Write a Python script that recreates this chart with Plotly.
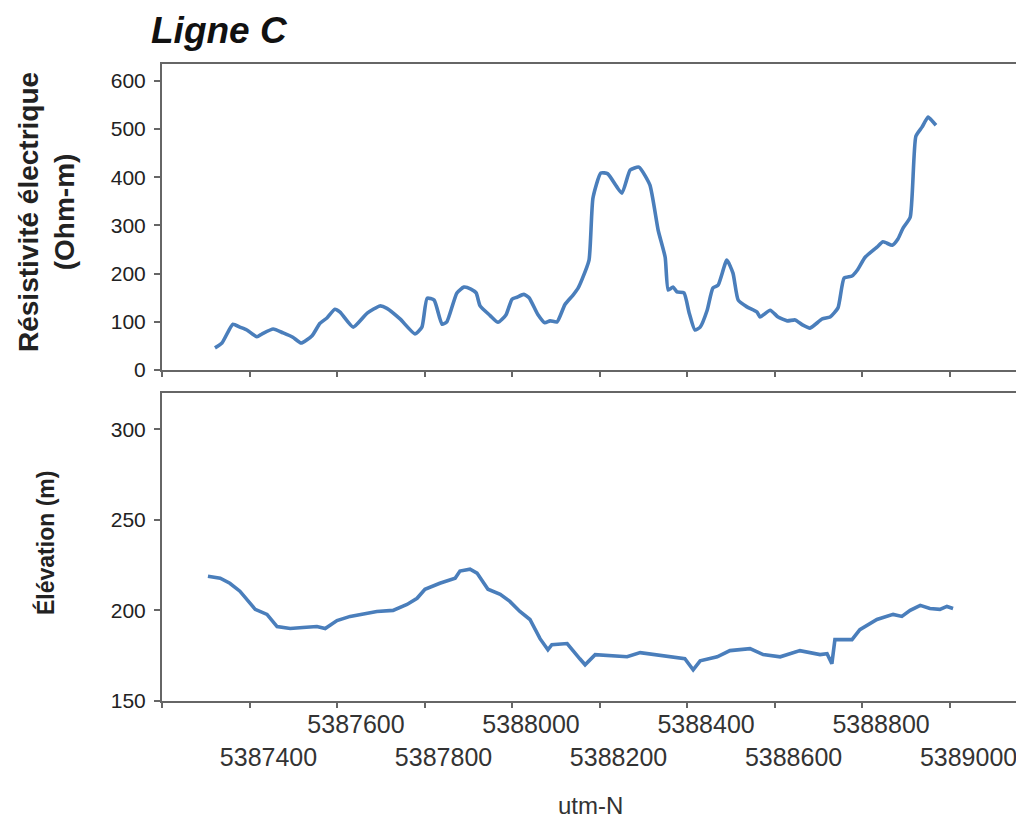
import plotly.graph_objects as go

# ---- data ----
res_utm = [5387321, 5387337, 5387362, 5387378, 5387394, 5387417, 5387429, 5387454, 5387477, 5387499,
           5387518, 5387543, 5387561, 5387577, 5387595, 5387607, 5387637, 5387669, 5387698, 5387714,
           5387744, 5387778, 5387794, 5387806, 5387822, 5387840, 5387851, 5387874, 5387890, 5387906,
           5387918, 5387927, 5387950, 5387968, 5387986, 5388000, 5388011, 5388027, 5388039, 5388059,
           5388075, 5388087, 5388103, 5388121, 5388139, 5388151, 5388160, 5388176, 5388185, 5388203,
           5388219, 5388251, 5388270, 5388290, 5388315, 5388334, 5388350, 5388357, 5388368, 5388377,
           5388393, 5388405, 5388418, 5388430, 5388446, 5388459, 5388471, 5388491, 5388505, 5388517,
           5388537, 5388560, 5388567, 5388590, 5388608, 5388629, 5388647, 5388665, 5388681, 5388709,
           5388727, 5388745, 5388759, 5388777, 5388789, 5388807, 5388834, 5388848, 5388869, 5388882,
           5388894, 5388910, 5388923, 5388937, 5388951, 5388962, 5388969]
resistivity = [46, 56, 95, 89, 83, 69, 75, 85, 77, 68,
               56, 71, 97, 108, 126, 120, 89, 118, 133, 128,
               106, 75, 89, 149, 145, 95, 100, 160, 172, 168,
               160, 133, 113, 99, 114, 147, 151, 157, 150, 115,
               98, 102, 100, 136, 155, 170, 188, 228, 357, 409,
               407, 367, 415, 421, 384, 290, 234, 166, 172, 162,
               160, 118, 83, 89, 124, 170, 176, 228, 201, 145,
               131, 120, 110, 124, 110, 102, 104, 93, 87, 106,
               110, 129, 191, 195, 207, 234, 255, 266, 259, 272,
               295, 317, 485, 504, 525, 515, 508]

elev_utm = [5387305, 5387333, 5387355, 5387378, 5387413, 5387440, 5387463, 5387493, 5387522, 5387554,
            5387573, 5387600, 5387630, 5387659, 5387691, 5387728, 5387760, 5387783, 5387801, 5387835,
            5387870, 5387881, 5387904, 5387920, 5387945, 5387973, 5387995, 5388018, 5388041, 5388064,
            5388082, 5388091, 5388126, 5388155, 5388167, 5388190, 5388224, 5388263, 5388293, 5388331,
            5388368, 5388395, 5388414, 5388430, 5388469, 5388498, 5388544, 5388574, 5388613, 5388658,
            5388704, 5388720, 5388731, 5388738, 5388777, 5388795, 5388834, 5388871, 5388891, 5388910,
            5388933, 5388955, 5388978, 5388994, 5389008]
elevation = [218.9, 217.8, 215.0, 210.6, 200.6, 197.8, 191.1, 190.0, 190.6, 191.1,
             190.0, 194.4, 196.7, 197.8, 199.4, 200.0, 203.3, 206.7, 211.7, 215.0,
             217.8, 221.7, 222.8, 220.6, 211.7, 208.9, 205.0, 199.4, 195.0, 184.4,
             178.3, 181.1, 181.7, 173.3, 170.0, 175.6, 175.0, 174.4, 176.7, 175.6,
             174.4, 173.3, 167.2, 172.2, 174.4, 177.8, 178.9, 175.6, 174.4, 177.8,
             175.6, 176.1, 170.6, 183.9, 183.9, 189.4, 195.0, 197.8, 196.7, 200.0,
             202.8, 201.1, 200.6, 202.2, 201.1]

x_tickvals = [5387200, 5387400, 5387600, 5387800, 5388000, 5388200, 5388400, 5388600, 5388800, 5389000]
x_ticktext = ["", "<br>5387400", "5387600", "<br>5387800", "5388000", "<br>5388200",
              "5388400", "<br>5388600", "5388800", "<br>5389000"]
res_ticks = [0, 100, 200, 300, 400, 500, 600]
elev_ticks = [150, 200, 250, 300]

FONT = "Arial, Liberation Sans, sans-serif"
LINE = "#4a7ebb"
AX = "#666666"

fig = go.Figure()
fig.add_trace(go.Scatter(x=res_utm, y=resistivity, mode="lines",
                         line=dict(color=LINE, width=3.6, shape="spline", smoothing=0.5),
                         xaxis="x", yaxis="y", showlegend=False))
fig.add_trace(go.Scatter(x=elev_utm, y=elevation, mode="lines",
                         line=dict(color=LINE, width=3.6),
                         xaxis="x2", yaxis="y2", showlegend=False))

xr = [5387200, 5389161]
common_x = dict(range=xr, showgrid=False, zeroline=False, showline=True, linecolor=AX,
                linewidth=2, mirror=True, ticks="outside", ticklen=5, tickwidth=2, tickcolor=AX,
                automargin=False)
common_y = dict(showgrid=False, zeroline=False, showline=True, linecolor=AX, linewidth=2,
                mirror=True, ticks="outside", ticklen=6, tickwidth=2, tickcolor=AX,
                automargin=False, ticklabelstandoff=4,
                tickfont=dict(family=FONT, size=21, color="#222222"))

# the page body has an 8px margin, so the figure is laid out 8px up/left of the screen pixels
fig.update_layout(
    width=1024, height=820,
    margin=dict(l=154, r=12, t=56, b=127),
    paper_bgcolor="white", plot_bgcolor="white",
    xaxis=dict(**common_x, domain=[0, 1], anchor="y", tickvals=x_tickvals, showticklabels=False),
    yaxis=dict(**common_y, domain=[0.5196, 1], anchor="x", range=[0, 635], tickvals=res_ticks),
    xaxis2=dict(**common_x, domain=[0, 1], anchor="y2", tickvals=x_tickvals, ticktext=x_ticktext,
                tickangle=0, ticklabelstandoff=-5,
                tickfont=dict(family=FONT, size=25, color="#333333"), ticklabelshift=19),
    yaxis2=dict(**common_y, domain=[0, 0.4835], anchor="x2", range=[150, 320], tickvals=elev_ticks),
)

def px_x(p):
    return (p - 162) / 858

def px_y(p):
    return (701 - p) / 637

fig.add_annotation(text="<b><i>Ligne C</i></b>", x=px_x(149), y=px_y(31), xref="paper", yref="paper",
                   xanchor="left", yanchor="middle", showarrow=False,
                   font=dict(family=FONT, size=37, color="#111111"))
fig.add_annotation(text="<b>Résistivité électrique<br>(Ohm-m)</b>", x=px_x(47), y=px_y(212),
                   xref="paper", yref="paper", textangle=-90, showarrow=False,
                   xanchor="center", yanchor="middle",
                   font=dict(family=FONT, size=28, color="#222222"))
fig.add_annotation(text="<b>Élévation (m)</b>", x=px_x(45), y=px_y(543),
                   xref="paper", yref="paper", textangle=-90, showarrow=False,
                   xanchor="center", yanchor="middle",
                   font=dict(family=FONT, size=23, color="#222222"))
fig.add_annotation(text="utm-N", x=px_x(590), y=px_y(805), xref="paper", yref="paper",
                   xanchor="center", yanchor="middle", showarrow=False,
                   font=dict(family=FONT, size=24, color="#333333"))

fig.write_html("out.html")
